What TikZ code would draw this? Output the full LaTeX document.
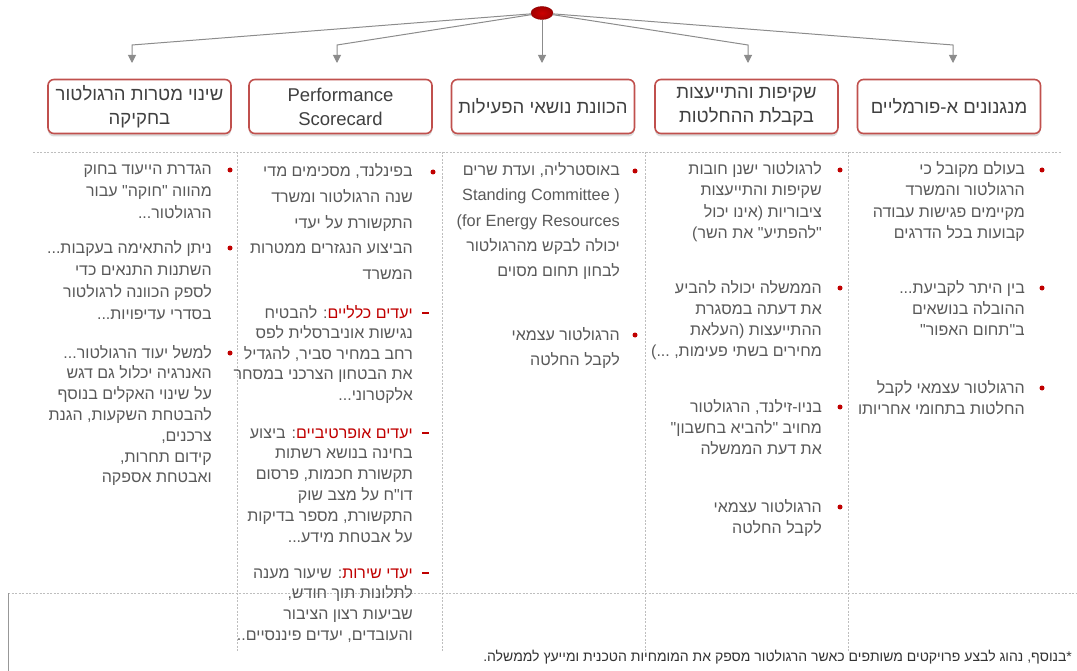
\documentclass[tikz,border=0pt]{standalone}
\usepackage{fontspec}
\setmainfont{Liberation Sans}
\newfontfamily\heb[Script=Hebrew]{Liberation Sans}
\TeXXeTstate=1
\usetikzlibrary{shapes.geometric,arrows.meta,shadows}

\definecolor{txt}{RGB}{89,89,89}
\definecolor{hdrtxt}{RGB}{64,64,64}
\definecolor{accent}{RGB}{192,0,0}
\definecolor{boxred}{RGB}{192,80,77}
\definecolor{conngrey}{RGB}{140,140,140}
\definecolor{gridgrey}{RGB}{190,190,190}

% one right-to-left line
\newcommand\rl[1]{\beginR #1\endR}
% trailing dots set apart from the last word
\newcommand\trail[1]{\kern0pt #1}
% body text size with a given line pitch
\newcommand\bodyfont[1]{\heb\fontsize{16bp}{#1bp}\selectfont}
\newcommand\latinline[1]{{\normalfont\fontsize{16.3bp}{25bp}\selectfont #1}}

\tikzset{
  hdr/.style={draw=boxred, line width=1.6bp, rounded corners=6bp, fill=white,
    minimum width=183bp, minimum height=54bp, align=center, inner sep=2bp,
    text=hdrtxt, font=\heb\fontsize{18.5bp}{24bp}\selectfont,
    drop shadow={shadow xshift=0bp, shadow yshift=-3bp, opacity=.35, fill=black!40}},
  body/.style={anchor=base east, align=right, inner sep=0pt, text=txt,
    font=\bodyfont{21}},
  pitch/.style={font=\bodyfont{#1}},
  lead/.style={anchor=base east, inner sep=0pt, text=accent, font=\bodyfont{21}},
  bul/.style={circle, fill=accent, inner sep=0pt, minimum size=5bp},
  dashmark/.style={rectangle, fill=accent, inner sep=0pt, minimum width=7bp, minimum height=1.6bp},
  conn/.style={draw=conngrey, line width=1bp, -{Triangle[width=8bp,length=8bp]}},
  grid/.style={draw=gridgrey, line width=0.8bp, dash pattern=on 2bp off 1.5bp},
  topdot/.style={ellipse, minimum width=22bp, minimum height=13bp, inner sep=0pt,
    inner color=red!80!black, outer color=accent!85!black, draw=accent!70!black}
}

\begin{document}
\begin{tikzpicture}[x=1bp, y=-1bp]
\useasboundingbox (0,0) rectangle (1077,671);

% table rules
\draw[grid] (33,152) -- (1062,152);
\foreach \gx in {237,442,645,848} \draw[grid] (\gx,152) -- (\gx,652);
\draw[grid] (8,593) -- (1077,593);
\draw[gridgrey!80!black, line width=0.8bp] (8,593) -- (8,671);

% root and headers
\node[topdot] (root) at (542,13) {};

\node[hdr] (h1) at (139.5,106.5) {\rl{שינוי מטרות הרגולטור}\\\rl{בחקיקה}};
\node[hdr, font=\fontsize{18.5bp}{24bp}\selectfont] (h2) at (340.5,106.5) {Performance\\Scorecard};
\node[hdr] (h3) at (543,106.5) {\rl{הכוונת נושאי הפעילות}};
\node[hdr] (h4) at (746.5,106.5) {\rl{שקיפות והתייעצות}\\\rl{בקבלת ההחלטות}};
\node[hdr] (h5) at (949,106.5) {\rl{מנגנונים א-פורמליים}};

% connectors
\coordinate (k1) at (132,45);  \coordinate (e1) at (132,63);
\coordinate (k2) at (337,45);  \coordinate (e2) at (337,63);
\coordinate (e3) at (542,63);
\coordinate (k4) at (748,45);  \coordinate (e4) at (748,63);
\coordinate (k5) at (953,45);  \coordinate (e5) at (953,63);
\draw[conn] (root) -- (k1) -- (e1);
\draw[conn] (root) -- (k2) -- (e2);
\draw[conn] (root) -- (e3);
\draw[conn] (root) -- (k4) -- (e4);
\draw[conn] (root) -- (k5) -- (e5);

% each text block is placed by the baseline of its last line

% column 5
\node[bul] (b51) at (1042,170) {};
\node[body] (t51) at (1025,{175+3*21}) {\rl{בעולם מקובל כי}\\\rl{הרגולטור והמשרד}\\\rl{מקיימים פגישות עבודה}\\\rl{קבועות בכל הדרגים}};
\node[bul] (b52) at (1042,288) {};
\node[body] (t52) at (1025,{293+2*21}) {\rl{בין היתר לקביעת\trail{...}}\\\rl{ההובלה בנושאים}\\\rl{ב"תחום האפור"}};
\node[bul] (b53) at (1042,388) {};
\node[body] (t53) at (1025,{393+21}) {\rl{הרגולטור עצמאי לקבל}\\\rl{החלטות בתחומי אחריותו}};

% column 4
\node[bul] (b41) at (840,170) {};
\node[body] (t41) at (822,{175+3*21}) {\rl{לרגולטור ישנן חובות}\\\rl{שקיפות והתייעצות}\\\rl{ציבוריות (אינו יכול}\\\rl{"להפתיע" את השר)}};
\node[bul] (b42) at (840,288) {};
\node[body] (t42) at (822,{293+3*21}) {\rl{הממשלה יכולה להביע}\\\rl{את דעתה במסגרת}\\\rl{ההתייעצות (העלאת}\\\rl{מחירים בשתי פעימות, ...)}};
\node[bul] (b43) at (840,407) {};
\node[body] (t43) at (822,{412+2*21}) {\rl{בניו-זילנד, הרגולטור}\\\rl{מחויב "להביא בחשבון"}\\\rl{את דעת הממשלה}};
\node[bul] (b44) at (840,507) {};
\node[body] (t44) at (822,{512+21}) {\rl{הרגולטור עצמאי}\\\rl{לקבל החלטה}};

% column 3
\node[bul] (b31) at (635,171) {};
\node[body, pitch=25] (t31) at (620,{176+4*25}) {\rl{באוסטרליה, ועדת שרים}\\\latinline{Standing Committee )}\\\latinline{(for Energy Resources}\\\rl{יכולה לבקש מהרגולטור}\\\rl{לבחון תחום מסוים}};
\node[bul] (b32) at (635,335) {};
\node[body, pitch=25] (t32) at (620,{340+25}) {\rl{הרגולטור עצמאי}\\\rl{לקבל החלטה}};

% column 2
\node[bul] (b21) at (433,172) {};
\node[body, pitch=25.5] (t21) at (413,{177+4*25.5}) {\rl{בפינלנד, מסכימים מדי}\\\rl{שנה הרגולטור ומשרד}\\\rl{התקשורת על יעדי}\\\rl{הביצוע הנגזרים ממטרות}\\\rl{המשרד}};
\node[dashmark] (d22) at (425,313) {};
\node[body, pitch=20.5] (t22) at (413,{318+4*20.5}) {\rl{\phantom{יעדים כלליים}: להבטיח}\\\rl{נגישות אוניברסלית לפס}\\\rl{רחב במחיר סביר, להגדיל}\\\rl{את הבטחון הצרכני במסחר}\\\rl{אלקטרוני\trail{...}}};
\node[lead] (r22) at (413,318) {\rl{יעדים כלליים}};
\node[dashmark] (d23) at (425,433) {};
\node[body, pitch=20.8] (t23) at (413,{438+5*20.8}) {\rl{\phantom{יעדים אופרטיביים}: ביצוע}\\\rl{בחינה בנושא רשתות}\\\rl{תקשורת חכמות, פרסום}\\\rl{דו"ח על מצב שוק}\\\rl{התקשורת, מספר בדיקות}\\\rl{על אבטחת מידע\trail{...}}};
\node[lead] (r23) at (413,438) {\rl{יעדים אופרטיביים}};
\node[dashmark] (d24) at (425,573) {};
\node[body, pitch=20.7] (t24) at (413,{578+3*20.7}) {\rl{\phantom{יעדי שירות}: שיעור מענה}\\\rl{לתלונות תוך חודש,}\\\rl{שביעות רצון הציבור}\\\rl{והעובדים, יעדים פיננסיים\trail{..}}};
\node[lead] (r24) at (413,578) {\rl{יעדי שירות}};

% column 1
\node[bul] (b11) at (230,170) {};
\node[body, pitch=21.5] (t11) at (212,{175+2*21.5}) {\rl{הגדרת הייעוד בחוק}\\\rl{מהווה "חוקה" עבור}\\\rl{הרגולטור\trail{...}}};
\node[bul] (b12) at (230,248) {};
\node[body, pitch=22] (t12) at (212,{253+3*22}) {\rl{ניתן להתאימה בעקבות\trail{...}}\\\rl{השתנות התנאים כדי}\\\rl{לספק הכוונה לרגולטור}\\\rl{בסדרי עדיפויות\trail{...}}};
\node[bul] (b13) at (230,353) {};
\node[body, pitch=20.8] (t13) at (212,{358+6*20.8}) {\rl{למשל יעוד הרגולטור\trail{...}}\\\rl{האנרגיה יכלול גם דגש}\\\rl{על שינוי האקלים בנוסף}\\\rl{להבטחת השקעות, הגנת}\\\rl{צרכנים,}\\\rl{קידום תחרות,}\\\rl{ואבטחת אספקה}};

% footnote
\node[body, font=\heb\fontsize{14bp}{16bp}\selectfont, text=black!80] (fn) at (1072,661) {\rl{*\kern0pt בנוסף, נהוג לבצע פרויקטים משותפים כאשר הרגולטור מספק את המומחיות הטכנית ומייעץ לממשלה.}};
\end{tikzpicture}
\end{document}
